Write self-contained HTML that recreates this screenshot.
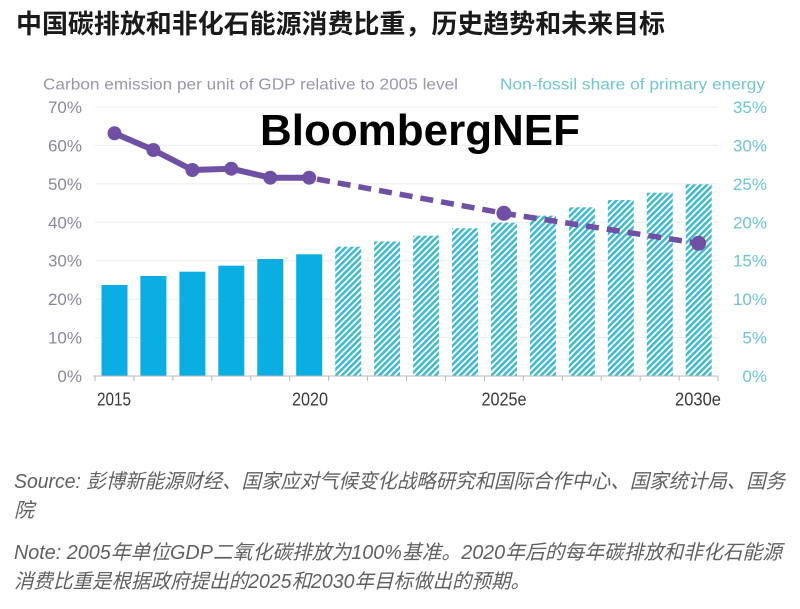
<!DOCTYPE html>
<html><head><meta charset="utf-8"><style>
html,body{margin:0;padding:0;background:#fff;}
svg{display:block;}
</style></head><body>
<svg width="800" height="609" viewBox="0 0 800 609" xmlns="http://www.w3.org/2000/svg">
<defs>
<pattern id="h" patternUnits="userSpaceOnUse" width="4.4" height="4.4" patternTransform="rotate(45)">
<rect x="0" y="0" width="4.4" height="4.4" fill="#fff"/>
<rect x="0" y="0" width="2.6" height="4.4" fill="#42bace"/>
</pattern>
</defs>
<rect width="800" height="609" fill="#fff"/>
<text x="16" y="33" font-family="'Liberation Sans','Noto Sans CJK SC',sans-serif" font-weight="bold" font-size="26" fill="#1a1a1a" textLength="649" lengthAdjust="spacingAndGlyphs">中国碳排放和非化石能源消费比重，历史趋势和未来目标</text>

<text x="43" y="89.5" font-family="'Liberation Sans',sans-serif" font-size="15.5" fill="#9b95aa" textLength="415" lengthAdjust="spacingAndGlyphs">Carbon emission per unit of GDP relative to  2005 level</text>
<text x="500" y="89.5" font-family="'Liberation Sans',sans-serif" font-size="15.5" fill="#6fc6d6" textLength="265" lengthAdjust="spacingAndGlyphs">Non-fossil share of primary energy</text>

<g stroke="#ececec" stroke-width="1">
<line x1="95" y1="107" x2="718" y2="107"/>
<line x1="95" y1="145.4" x2="718" y2="145.4"/>
<line x1="95" y1="183.9" x2="718" y2="183.9"/>
<line x1="95" y1="222.3" x2="718" y2="222.3"/>
<line x1="95" y1="260.7" x2="718" y2="260.7"/>
<line x1="95" y1="299.1" x2="718" y2="299.1"/>
<line x1="95" y1="337.6" x2="718" y2="337.6"/>
</g>

<g font-family="'Liberation Sans',sans-serif" font-size="17" fill="#8c8896" text-anchor="end">
<text x="82" y="113">70%</text>
<text x="82" y="151.4">60%</text>
<text x="82" y="189.9">50%</text>
<text x="82" y="228.3">40%</text>
<text x="82" y="266.7">30%</text>
<text x="82" y="305.1">20%</text>
<text x="82" y="343.6">10%</text>
<text x="82" y="382">0%</text>
</g>
<g font-family="'Liberation Sans',sans-serif" font-size="17" fill="#6cc4d8" text-anchor="end">
<text x="767" y="113">35%</text>
<text x="767" y="151.4">30%</text>
<text x="767" y="189.9">25%</text>
<text x="767" y="228.3">20%</text>
<text x="767" y="266.7">15%</text>
<text x="767" y="305.1">10%</text>
<text x="767" y="343.6">5%</text>
<text x="767" y="382">0%</text>
</g>

<g fill="#0aaee2">
<rect x="101.5" y="285" width="26" height="91"/>
<rect x="140.4" y="276" width="26" height="100"/>
<rect x="179.4" y="271.7" width="26" height="104.3"/>
<rect x="218.3" y="265.7" width="26" height="110.3"/>
<rect x="257.3" y="259" width="26" height="117"/>
<rect x="296.2" y="254.3" width="26" height="121.7"/>
</g>
<g fill="url(#h)">
<rect x="335.2" y="246.7" width="26" height="129.3"/>
<rect x="374.1" y="241.5" width="26" height="134.5"/>
<rect x="413.1" y="235.7" width="26" height="140.3"/>
<rect x="452" y="228.3" width="26" height="147.7"/>
<rect x="491" y="222.7" width="26" height="153.3"/>
<rect x="529.9" y="215.7" width="26" height="160.3"/>
<rect x="568.9" y="207.3" width="26" height="168.7"/>
<rect x="607.8" y="200" width="26" height="176"/>
<rect x="646.8" y="192.7" width="26" height="183.3"/>
<rect x="685.7" y="184.3" width="26" height="191.7"/>
</g>

<g stroke="#b8b8b8" stroke-width="1">
<line x1="93" y1="376" x2="718" y2="376"/>
<line x1="95" y1="376" x2="95" y2="381"/>
<line x1="133.9" y1="376" x2="133.9" y2="381"/>
<line x1="172.9" y1="376" x2="172.9" y2="381"/>
<line x1="211.8" y1="376" x2="211.8" y2="381"/>
<line x1="250.8" y1="376" x2="250.8" y2="381"/>
<line x1="289.7" y1="376" x2="289.7" y2="381"/>
<line x1="328.6" y1="376" x2="328.6" y2="381"/>
<line x1="367.6" y1="376" x2="367.6" y2="381"/>
<line x1="406.5" y1="376" x2="406.5" y2="381"/>
<line x1="445.5" y1="376" x2="445.5" y2="381"/>
<line x1="484.4" y1="376" x2="484.4" y2="381"/>
<line x1="523.3" y1="376" x2="523.3" y2="381"/>
<line x1="562.3" y1="376" x2="562.3" y2="381"/>
<line x1="601.2" y1="376" x2="601.2" y2="381"/>
<line x1="640.2" y1="376" x2="640.2" y2="381"/>
<line x1="679.1" y1="376" x2="679.1" y2="381"/>
<line x1="718" y1="376" x2="718" y2="381"/>
</g>

<g font-family="'Liberation Sans',sans-serif" font-size="18.5" fill="#3a3a3a" text-anchor="middle">
<text x="114" y="405.5" textLength="34" lengthAdjust="spacingAndGlyphs">2015</text>
<text x="310" y="405.5" textLength="36" lengthAdjust="spacingAndGlyphs">2020</text>
<text x="504" y="405.5" textLength="45" lengthAdjust="spacingAndGlyphs">2025e</text>
<text x="698" y="405.5" textLength="46" lengthAdjust="spacingAndGlyphs">2030e</text>
</g>

<text x="260" y="145" font-family="'Liberation Sans',sans-serif" font-weight="bold" font-size="44" fill="#000" textLength="320" lengthAdjust="spacingAndGlyphs">BloombergNEF</text>

<polyline points="309.2,177.7 503.9,213.3 698.6,243.3" fill="none" stroke="#7050a5" stroke-width="5.5" stroke-dasharray="13 8" stroke-dashoffset="-8"/>
<polyline points="114.5,133.3 153.4,150 192.4,170 231.3,168.7 270.3,177.7 309.2,177.7" fill="none" stroke="#7050a5" stroke-width="6" stroke-linejoin="round"/>
<g fill="#7050a5">
<circle cx="114.5" cy="133.3" r="7"/>
<circle cx="153.4" cy="150" r="7"/>
<circle cx="192.4" cy="170" r="7"/>
<circle cx="231.3" cy="168.7" r="7"/>
<circle cx="270.3" cy="177.7" r="7"/>
<circle cx="309.2" cy="177.7" r="7"/>
<circle cx="503.9" cy="213.3" r="7.5"/>
<circle cx="698.6" cy="243.3" r="7.5"/>
</g>

<g font-family="'Liberation Sans','Noto Sans CJK SC',sans-serif" font-size="20" font-style="italic" fill="#606060">
<text x="14" y="488" textLength="771" lengthAdjust="spacingAndGlyphs">Source: 彭博新能源财经、国家应对气候变化战略研究和国际合作中心、国家统计局、国务</text>
<text x="14" y="517">院</text>
<text x="14" y="559" textLength="768" lengthAdjust="spacingAndGlyphs">Note: 2005年单位GDP二氧化碳排放为100%基准。2020年后的每年碳排放和非化石能源</text>
<text x="14" y="588" textLength="516" lengthAdjust="spacingAndGlyphs">消费比重是根据政府提出的2025和2030年目标做出的预期。</text>
</g>
</svg>
</body></html>
